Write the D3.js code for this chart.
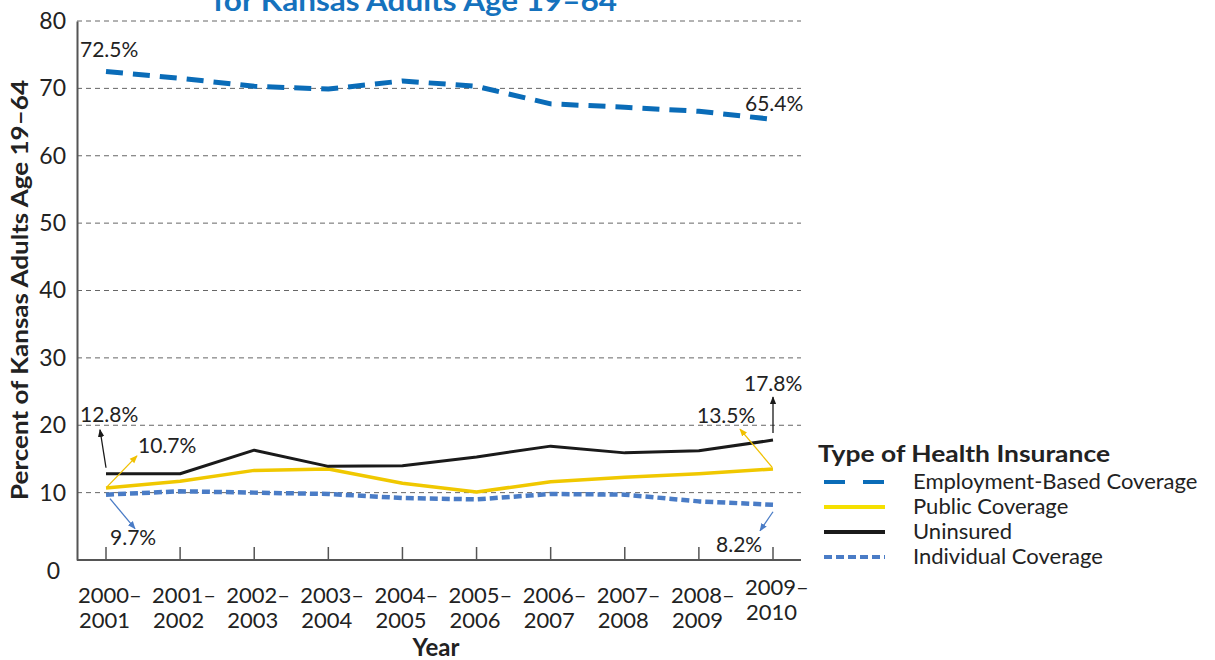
<!DOCTYPE html>
<html><head><meta charset="utf-8">
<script src="https://cdn.jsdelivr.net/npm/d3@7"></script>
<style>body{margin:0;background:#fff}svg{display:block;font-family:Lato,"Open Sans",sans-serif}</style>
</head><body>
<svg id="c" width="1215" height="660"></svg>
<script>
const years = ["2000–2001","2001–2002","2002–2003","2003–2004","2004–2005","2005–2006","2006–2007","2007–2008","2008–2009","2009–2010"];
const employment = [72.5,71.5,70.3,69.9,71.1,70.3,67.7,67.2,66.6,65.4];
const publicCov = [10.7,11.7,13.3,13.5,11.4,10.1,11.6,12.3,12.8,13.5];
const uninsured = [12.8,12.8,16.3,13.9,14.0,15.3,16.9,15.9,16.2,17.8];
const individual = [9.7,10.2,10.0,9.8,9.2,9.0,9.8,9.7,8.7,8.2];
const yTicks = [0,10,20,30,40,50,60,70,80];
const seriesNames = ["Employment-Based Coverage","Public Coverage","Uninsured","Individual Coverage"];

const svg = d3.select("#c");
const x = d3.scalePoint().domain(years).range([106,773]);
const y = d3.scaleLinear().domain([0,80]).range([560,21]);
const X0 = 77, X1 = 801;

// title (partially cut off at top, as in the reference)
svg.append("text").attr("x",213).attr("y",11)
  .attr("font-size",28).attr("font-weight",700).attr("fill","#1572bd")
  .attr("textLength",404).attr("lengthAdjust","spacingAndGlyphs")
  .text("for Kansas Adults Age 19–64");

// gridlines
svg.append("g").selectAll("line").data(yTicks.filter(d=>d>0)).join("line")
  .attr("x1",X0).attr("x2",X1).attr("y1",d=>y(d)).attr("y2",d=>y(d))
  .attr("stroke","#666").attr("stroke-width",1).attr("stroke-dasharray","5,4");

// y axis
const yAxis = d3.axisLeft(y).tickValues(yTicks).tickSize(0).tickPadding(11);
const gy = svg.append("g").attr("transform",`translate(${X0},0)`).call(yAxis);
gy.select(".domain").attr("stroke","#555").attr("stroke-width",2);
gy.selectAll("text").attr("font-size",23).attr("fill","#222").attr("font-family","Lato");
gy.selectAll(".tick").filter(d=>d===0).select("text").attr("dy","0.8em").attr("x",-17);

// x axis
const gx = svg.append("g").attr("transform",`translate(0,${y(0)})`);
gx.append("line").attr("x1",X0).attr("x2",X1).attr("stroke","#555").attr("stroke-width",2);
gx.selectAll("line.t").data(years).join("line").attr("class","t")
  .attr("x1",d=>x(d)).attr("x2",d=>x(d)).attr("y1",0).attr("y2",-13)
  .attr("stroke","#555").attr("stroke-width",1.5);
const lbl = gx.selectAll("text.l").data(years).join("text").attr("class","l")
  .attr("font-size",22).attr("fill","#222");
lbl.each(function(d,i){
  const [a,b] = d.split("–");
  const t = d3.select(this);
  const dy = i===years.length-1 ? -8 : 0;
  t.append("tspan").attr("x",x(d)-28).attr("y",43+dy).text(a+"–");
  t.append("tspan").attr("x",x(d)-27).attr("y",68+dy).text(b);
});

// axis titles
svg.append("text").attr("x",436).attr("y",656).attr("text-anchor","middle")
  .attr("font-size",24).attr("font-weight",700).attr("fill","#222").text("Year");
svg.append("text").attr("transform","translate(28,290) rotate(-90)").attr("text-anchor","middle")
  .attr("font-size",23).attr("font-weight",700).attr("fill","#222")
  .attr("textLength",420).attr("lengthAdjust","spacingAndGlyphs")
  .text("Percent of Kansas Adults Age 19–64");

// lines
const line = d3.line().x((d,i)=>x(years[i])).y(d=>y(d));
const styles = [
  {data:employment,color:"#0a6cb8",w:5,dash:"17,10"},
  {data:publicCov,color:"#f0c800",w:3.5,dash:null},
  {data:uninsured,color:"#1a1a1a",w:3,dash:null},
  {data:individual,color:"#4a7cc6",w:4.5,dash:"8,4"}
];
const lineOrder = [1,2,3,0];
lineOrder.forEach(k=>{
  const s = styles[k];
  svg.append("path").datum(s.data).attr("d",line).attr("fill","none")
    .attr("stroke",s.color).attr("stroke-width",s.w)
    .attr("stroke-dasharray",s.dash).attr("stroke-linejoin","round");
});

// arrow markers
const defs = svg.append("defs");
function marker(id,color){
  defs.append("marker").attr("id",id).attr("viewBox","0 0 10 10").attr("refX",9).attr("refY",5)
    .attr("markerWidth",8).attr("markerHeight",8).attr("orient","auto-start-reverse")
    .attr("markerUnits","userSpaceOnUse")
    .append("path").attr("d","M0,1 L10,5 L0,9 Z").attr("fill",color);
}
marker("mk","#1a1a1a"); marker("my","#f0c000"); marker("mb","#4a7cc6");

const first = years[0], last = years[years.length-1];
const n = years.length-1;
const ann = [
  {t:employment[0].toFixed(1)+"%", x:x(first)-26, y:y(employment[0])-15},
  {t:employment[n].toFixed(1)+"%", x:x(last)-28, y:y(employment[n])-8},
  {t:uninsured[0].toFixed(1)+"%", x:x(first)-26, y:y(uninsured[0])-52,
    a:[x(first),y(uninsured[0])-6,x(first)-6,y(uninsured[0])-44,"mk","#1a1a1a"]},
  {t:publicCov[0].toFixed(1)+"%", x:x(first)+32, y:y(publicCov[0])-35,
    a:[x(first)+1,y(publicCov[0])-1,x(first)+31,y(publicCov[0])-32,"my","#f0c000"]},
  {t:individual[0].toFixed(1)+"%", x:x(first)+4, y:y(individual[0])+50,
    a:[x(first)+4,y(individual[0])+4,x(first)+29,y(individual[0])+34,"mb","#4a7cc6"]},
  {t:uninsured[n].toFixed(1)+"%", x:x(last)-29, y:y(uninsured[n])-49,
    a:[x(last),y(uninsured[n])-7,x(last),y(uninsured[n])-43,"mk","#1a1a1a"]},
  {t:publicCov[n].toFixed(1)+"%", x:x(last)-76, y:y(publicCov[n])-46,
    a:[x(last)-1,y(publicCov[n])-2,x(last)-33,y(publicCov[n])-40,"my","#f0c000"]},
  {t:individual[n].toFixed(1)+"%", x:x(last)-57, y:y(individual[n])+47,
    a:[x(last),y(individual[n])+7,x(last)-13,y(individual[n])+26,"mb","#4a7cc6"]}
];
ann.forEach(d=>{
  if(d.a){
    svg.append("line").attr("x1",d.a[0]).attr("y1",d.a[1]).attr("x2",d.a[2]).attr("y2",d.a[3])
      .attr("stroke",d.a[5]).attr("stroke-width",1.3).attr("marker-end",`url(#${d.a[4]})`);
  }
  svg.append("text").attr("x",d.x).attr("y",d.y).attr("font-size",21).attr("fill","#222").text(d.t);
});

// legend
const lg = svg.append("g");
lg.append("text").attr("x",818).attr("y",462).attr("font-size",23).attr("font-weight",700)
  .attr("fill","#222").attr("textLength",292).attr("lengthAdjust","spacingAndGlyphs")
  .text("Type of Health Insurance");
const legColors = ["#0a6cb8","#f5e000","#1a1a1a","#4a7cc6"];
const legDash = ["21,18",null,null,"8,4"];
seriesNames.forEach((nm,i)=>{
  const yy = 482 + i*25;
  lg.append("line").attr("x1",824).attr("x2",885).attr("y1",yy).attr("y2",yy)
    .attr("stroke",legColors[i]).attr("stroke-width",4).attr("stroke-dasharray",legDash[i]);
  lg.append("text").attr("x",913).attr("y",yy+7).attr("font-size",22).attr("fill","#222").text(nm);
});
</script>
</body></html>
